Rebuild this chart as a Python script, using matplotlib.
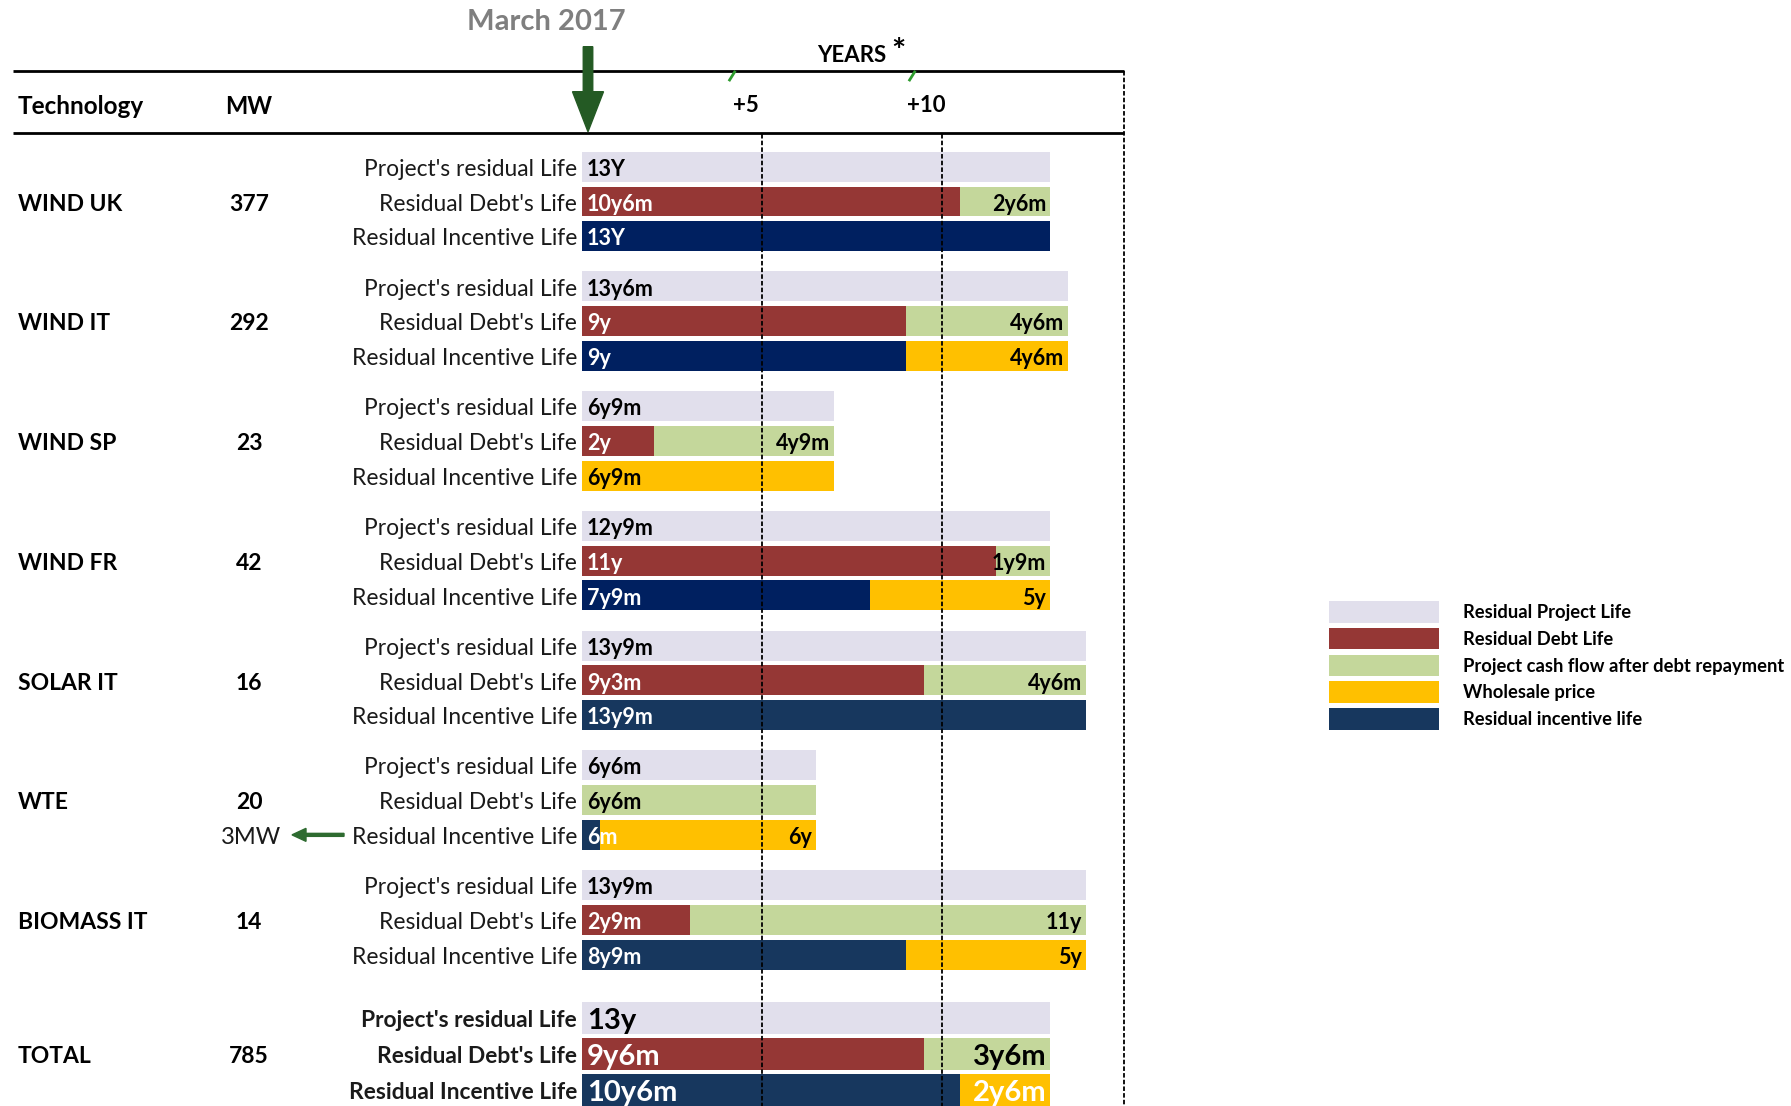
import matplotlib
matplotlib.use('Agg')
import matplotlib.pyplot as plt
from matplotlib.patches import Patch, FancyArrow
from matplotlib.lines import Line2D
from matplotlib.transforms import blended_transform_factory

plt.rcParams['font.family'] = ['Lato', 'DejaVu Sans']

# ---------------- data ----------------
technologies = ["WIND UK", "WIND IT", "WIND SP", "WIND FR", "SOLAR IT", "WTE", "BIOMASS IT", "TOTAL"]
mw = ["377", "292", "23", "42", "16", "20", "14", "785"]

project_life = [13.0, 13.5, 7.0, 13.0, 14.0, 6.5, 14.0, 13.0]
project_labels = ["13Y", "13y6m", "6y9m", "12y9m", "13y9m", "6y6m", "13y9m", "13y"]

debt_life = [10.5, 9.0, 2.0, 11.5, 9.5, 0.0, 3.0, 9.5]
debt_labels = ["10y6m", "9y", "2y", "11y", "9y3m", "", "2y9m", "9y6m"]
cash_after_debt = [2.5, 4.5, 5.0, 1.5, 4.5, 6.5, 11.0, 3.5]
cash_labels = ["2y6m", "4y6m", "4y9m", "1y9m", "4y6m", "6y6m", "11y", "3y6m"]

incentive_life = [13.0, 9.0, 0.0, 8.0, 14.0, 0.5, 9.0, 10.5]
incentive_labels = ["13Y", "9y", "", "7y9m", "13y9m", "6m", "8y9m", "10y6m"]
wholesale = [0.0, 4.5, 7.0, 5.0, 0.0, 6.0, 5.0, 2.5]
wholesale_labels = ["", "4y6m", "6y9m", "5y", "", "6y", "5y", "2y6m"]

row_names = ["Project's residual Life", "Residual Debt's Life", "Residual Incentive Life"]
year_ticks = [5, 10]
year_tick_labels = ["+5", "+10"]
legend_labels = ["Residual Project Life", "Residual Debt Life",
                 "Project cash flow after debt repayment", "Wholesale price",
                 "Residual incentive life"]

# ---------------- style ----------------
C_PROJ = "#E1DFEC"
C_DEBT = "#953735"
C_CASH = "#C4D79B"
C_WHOLE = "#FFC000"
C_NAVY1 = "#002060"
C_NAVY2 = "#17375E"
inc_colors = [C_NAVY1, C_NAVY1, C_NAVY1, C_NAVY1, C_NAVY2, C_NAVY2, C_NAVY2, C_NAVY2]
GREEN = "#245A24"
VA = "center_baseline"

W, H = 1791, 1106
fig = plt.figure(figsize=(W / 100, H / 100), dpi=100)
ax = fig.add_axes([0, 0, 1, 1])
ax.set_axis_off()

X0, PX_YR = 582.0, 36.0
Y0, ROW_PX = 166.7, 34.8
ax.set_xlim(-X0 / PX_YR, (W - X0) / PX_YR)
ax.set_ylim((H - Y0) / ROW_PX, -Y0 / ROW_PX)


def xpx(px):
    return (px - X0) / PX_YR


def ypx(py):
    return (py - Y0) / ROW_PX


def fx(px):
    return px / W


def fy(py):
    return 1 - py / H


tr = blended_transform_factory(fig.transFigure, ax.transData)

GROUP_STEP = 3.44
TOTAL_GAP = 3.82
n = len(technologies)
TXT_DY = 0.02  # small downward nudge of text baseline-centre


def draw_row(y, segs, h, fs):
    left = 0.0
    drawn = [s for s in segs if s[0] > 0]
    for k, (L, c, lab, tc) in enumerate(drawn):
        ax.barh(y, L, left=left, height=h, color=c, lw=0, zorder=2)
        if lab:
            if k == 0:
                ax.text(left + 0.14, y + TXT_DY, lab, ha="left", va=VA, fontsize=fs,
                        fontweight="bold", color=tc, zorder=5)
            else:
                ax.text(left + L - 0.1, y + TXT_DY, lab, ha="right", va=VA, fontsize=fs,
                        fontweight="bold", color=tc, zorder=5)
        left += L


for i, tech in enumerate(technologies):
    total = (i == n - 1)
    if total:
        base, step, h, fs = (n - 2) * GROUP_STEP + TOTAL_GAP, 1.04, 0.91, 21
    else:
        base, step, h, fs = i * GROUP_STEP, 1.0, 0.862, 15.5
    ys = [base, base + step, base + 2 * step]

    draw_row(ys[0], [(project_life[i], C_PROJ, project_labels[i], "black")], h, fs)
    draw_row(ys[1], [(debt_life[i], C_DEBT, debt_labels[i], "white"),
                     (cash_after_debt[i], C_CASH, cash_labels[i], "black")], h, fs)
    draw_row(ys[2], [(incentive_life[i], inc_colors[i], incentive_labels[i], "white"),
                     (wholesale[i], C_WHOLE, wholesale_labels[i],
                      "white" if total else "black")], h, fs)

    for r, name in enumerate(row_names):
        ax.text(fx(577), ys[r] + TXT_DY, name, transform=tr, ha="right", va=VA,
                fontsize=16.4, fontweight="bold" if total else "normal", color="#1a1a1a")

    ax.text(fx(18), ys[1] + TXT_DY, tech, transform=tr, ha="left", va=VA,
            fontsize=16.5, fontweight="bold", color="black")
    ax.text(fx(249), ys[1] + TXT_DY, mw[i], transform=tr, ha="center", va=VA,
            fontsize=16.5, fontweight="bold", color="black")

    if tech == "WTE":
        ax.text(fx(251), ys[2] + TXT_DY, "3MW", transform=tr, ha="center", va=VA,
                fontsize=17, color="#1a1a1a")
        yp = ax.transData.transform((0, ys[2]))[1]
        fig.add_artist(FancyArrow(3.44, yp / 100, -0.52, 0, width=0.03,
                                  head_width=0.13, head_length=0.14,
                                  length_includes_head=True, color="#2E6B30",
                                  transform=fig.dpi_scale_trans))

# dashed year lines
ax.vlines(year_ticks, ypx(134), ypx(H), colors="black", linestyles=(0, (2.5, 1.2)),
          lw=1.3, zorder=3)
ax.vlines([xpx(1124)], ypx(70.7), ypx(H), colors="black", linestyles=(0, (2.5, 1.2)),
          lw=1.3, zorder=3)
# header rules
ax.hlines([ypx(70.7), ypx(133.3)], xpx(13), xpx(1124), colors="black", lw=2, zorder=3)

# header texts
fig.text(fx(546), fy(22), "March 2017", ha="center", va="center", fontsize=21,
         fontweight="bold", color="#7F7F7F")
fig.text(fx(852), fy(54), "YEARS", ha="center", va=VA, fontsize=16,
         fontweight="bold", color="black")
fig.text(fx(898), fy(52), "*", ha="center", va="center", fontsize=24,
         fontweight="bold", color="black")
fig.text(fx(18), fy(104), "Technology", ha="left", va=VA, fontsize=17.5,
         fontweight="bold", color="black")
fig.text(fx(249), fy(104), "MW", ha="center", va=VA, fontsize=17,
         fontweight="bold", color="black")
for t, lab in zip(year_ticks, year_tick_labels):
    ax.text(t - 0.45, ypx(104), lab, ha="center", va=VA, fontsize=16,
            fontweight="bold", color="black")

# small green marks on the top rule
for t in year_ticks:
    xs = X0 + (t - 0.9) * PX_YR
    fig.add_artist(Line2D([fx(xs), fx(xs + 5)], [fy(80), fy(72)],
                          transform=fig.transFigure, color="#2E9B2E", lw=2))

# March 2017 arrow
fig.add_artist(FancyArrow(5.88, (H - 46.7) / 100, 0, -0.85, width=0.095,
                          head_width=0.31, head_length=0.40,
                          length_includes_head=True, color=GREEN,
                          transform=fig.dpi_scale_trans))

# legend
handles = [Patch(facecolor=c, edgecolor="none")
           for c in [C_PROJ, C_DEBT, C_CASH, C_WHOLE, C_NAVY2]]
fs_leg = 13.2
fs_px = fs_leg * 100 / 72
leg = fig.legend(handles, legend_labels, loc="upper left",
                 bbox_to_anchor=(fx(1329), fy(601)), bbox_transform=fig.transFigure,
                 frameon=False, borderpad=0, borderaxespad=0,
                 handlelength=110 / fs_px,
                 handleheight=1.43,
                 handletextpad=24 / fs_px,
                 labelspacing=5.3 / fs_px,
                 prop={"size": fs_leg, "weight": "bold"})

fig.savefig("out.png", dpi=100)
